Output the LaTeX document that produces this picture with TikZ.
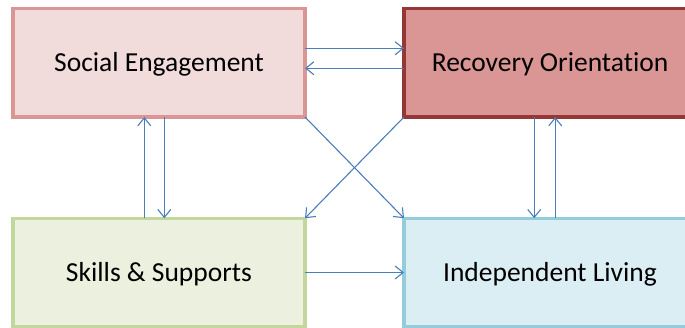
\documentclass[tikz,border=0pt]{standalone}
\usepackage{fontspec}
\setmainfont[Ligatures=NoCommon]{Carlito}
\usetikzlibrary{arrows.meta}
\definecolor{socfill}{HTML}{F2DCDB}
\definecolor{socdraw}{HTML}{D99694}
\definecolor{recfill}{HTML}{D99694}
\definecolor{recdraw}{HTML}{953735}
\definecolor{skfill}{HTML}{EBF1DE}
\definecolor{skdraw}{HTML}{C3D69B}
\definecolor{indfill}{HTML}{DBEEF4}
\definecolor{inddraw}{HTML}{93CDDD}
\definecolor{arrcol}{HTML}{4A7EBB}
\begin{document}
\begin{tikzpicture}[x=1pt,y=-1pt,
  box/.style={rectangle, line width=3.3pt, minimum width=292pt, minimum height=108.5pt,
    inner sep=0pt, outer sep=0pt, text height=22pt, text depth=3.5pt,
    font=\fontsize{27.5}{33}\selectfont, text=black},
  arr/.style={draw=arrcol, line width=1.1pt, -{Straight Barb[length=8pt,width=13pt,line width=1.1pt]}}]
\useasboundingbox (0,0) rectangle (685,328);
\node[box, fill=socfill, draw=socdraw] (soc) at (159,62.75) {Social Engagement};
\node[box, fill=recfill, draw=recdraw] (rec) at (550,62.75) {Recovery Orientation};
\node[box, fill=skfill, draw=skdraw] (sk) at (159,272.5) {Skills \& Supports};
\node[box, fill=indfill, draw=inddraw] (ind) at (550,272.5) {Independent Living};
\draw[arr] ([yshift=14.5pt]soc.east) -- ([yshift=14.5pt]rec.west);
\draw[arr] ([yshift=-5.5pt]rec.west) -- ([yshift=-5.5pt]soc.east);
\draw[arr] ([xshift=-14.7pt]sk.north) -- ([xshift=-14.7pt]soc.south);
\draw[arr] ([xshift=5.3pt]soc.south) -- ([xshift=5.3pt]sk.north);
\draw[arr] ([xshift=-15.8pt]rec.south) -- ([xshift=-15.8pt]ind.north);
\draw[arr] ([xshift=5.2pt]ind.north) -- ([xshift=5.2pt]rec.south);
\draw[arr] (soc.south east) -- (ind.north west);
\draw[arr] (rec.south west) -- (sk.north east);
\draw[arr] (sk.east) -- (ind.west);
\end{tikzpicture}
\end{document}
